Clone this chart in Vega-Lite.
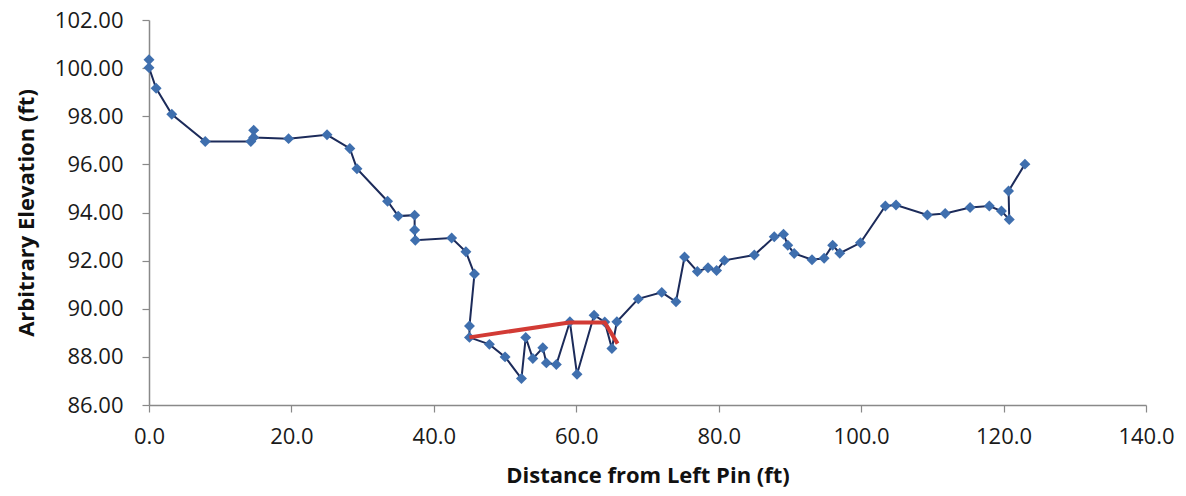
{
  "$schema": "https://vega.github.io/schema/vega-lite/v6.json",
  "autosize": "none",
  "width": 997,
  "height": 385,
  "padding": {"left": 149, "top": 20, "right": 40, "bottom": 91},
  "background": "white",
  "config": {
    "view": {"stroke": null},
    "font": "Open Sans",
    "axis": {"grid": false, "domainColor": "#898989", "tickColor": "#898989", "domainWidth": 1.5, "tickWidth": 1.2, "labelColor": "#1a1a1a", "titleColor": "#111111", "labelFont": "Open Sans", "titleFont": "Open Sans", "labelFlush": false, "labelOverlap": false}
  },
  "datasets": {
    "profile": [
      {"i": 1, "d": 0.0, "e": 100.35},
      {"i": 2, "d": 0.0, "e": 100.02},
      {"i": 3, "d": 1.0, "e": 99.16},
      {"i": 4, "d": 3.2, "e": 98.08},
      {"i": 5, "d": 7.9, "e": 96.95},
      {"i": 6, "d": 14.3, "e": 96.95},
      {"i": 7, "d": 14.7, "e": 97.42},
      {"i": 8, "d": 14.7, "e": 97.12},
      {"i": 9, "d": 19.6, "e": 97.07},
      {"i": 10, "d": 25.0, "e": 97.23},
      {"i": 11, "d": 28.2, "e": 96.66},
      {"i": 12, "d": 29.2, "e": 95.82},
      {"i": 13, "d": 33.5, "e": 94.47},
      {"i": 14, "d": 35.0, "e": 93.85},
      {"i": 15, "d": 37.3, "e": 93.89},
      {"i": 16, "d": 37.3, "e": 93.27},
      {"i": 17, "d": 37.4, "e": 92.85},
      {"i": 18, "d": 42.5, "e": 92.94},
      {"i": 19, "d": 44.5, "e": 92.37},
      {"i": 20, "d": 45.7, "e": 91.44},
      {"i": 21, "d": 45.0, "e": 89.28},
      {"i": 22, "d": 45.0, "e": 88.81},
      {"i": 23, "d": 47.8, "e": 88.52},
      {"i": 24, "d": 50.0, "e": 88.0},
      {"i": 25, "d": 52.3, "e": 87.1},
      {"i": 26, "d": 52.9, "e": 88.81},
      {"i": 27, "d": 53.9, "e": 87.93},
      {"i": 28, "d": 55.3, "e": 88.38},
      {"i": 29, "d": 55.8, "e": 87.75},
      {"i": 30, "d": 57.2, "e": 87.68},
      {"i": 31, "d": 59.1, "e": 89.46},
      {"i": 32, "d": 60.1, "e": 87.28},
      {"i": 33, "d": 62.5, "e": 89.73},
      {"i": 34, "d": 64.0, "e": 89.45},
      {"i": 35, "d": 65.0, "e": 88.35},
      {"i": 36, "d": 65.7, "e": 89.46},
      {"i": 37, "d": 68.7, "e": 90.41},
      {"i": 38, "d": 72.0, "e": 90.68},
      {"i": 39, "d": 74.0, "e": 90.29},
      {"i": 40, "d": 75.2, "e": 92.15},
      {"i": 41, "d": 77.0, "e": 91.55},
      {"i": 42, "d": 78.5, "e": 91.7},
      {"i": 43, "d": 79.7, "e": 91.59},
      {"i": 44, "d": 80.8, "e": 92.01},
      {"i": 45, "d": 85.0, "e": 92.23},
      {"i": 46, "d": 87.8, "e": 92.99},
      {"i": 47, "d": 89.1, "e": 93.1},
      {"i": 48, "d": 89.7, "e": 92.64},
      {"i": 49, "d": 90.6, "e": 92.3},
      {"i": 50, "d": 93.1, "e": 92.04},
      {"i": 51, "d": 94.8, "e": 92.1},
      {"i": 52, "d": 96.0, "e": 92.64},
      {"i": 53, "d": 97.0, "e": 92.31},
      {"i": 54, "d": 99.9, "e": 92.74},
      {"i": 55, "d": 103.4, "e": 94.27},
      {"i": 56, "d": 104.9, "e": 94.31},
      {"i": 57, "d": 109.3, "e": 93.9},
      {"i": 58, "d": 111.8, "e": 93.96},
      {"i": 59, "d": 115.3, "e": 94.21},
      {"i": 60, "d": 118.0, "e": 94.27},
      {"i": 61, "d": 119.7, "e": 94.06},
      {"i": 62, "d": 120.8, "e": 93.71},
      {"i": 63, "d": 120.7, "e": 94.89},
      {"i": 64, "d": 123.0, "e": 96.01}
    ],
    "water": [
      {"i": 1, "d": 45.0, "e": 88.81},
      {"i": 2, "d": 59.0, "e": 89.43},
      {"i": 3, "d": 64.0, "e": 89.43},
      {"i": 4, "d": 65.8, "e": 88.55}
    ]
  },
  "encoding": {
    "x": {"field": "d", "type": "quantitative", "scale": {"domain": [0, 140], "nice": false, "zero": false},
      "axis": {"values": [0, 20, 40, 60, 80, 100, 120, 140], "format": ".1f", "title": "Distance from Left Pin (ft)", "labelFontSize": 22, "labelPadding": 14, "tickSize": 7, "titleFontSize": 22, "titleFontWeight": "bold", "titlePadding": 18}},
    "y": {"field": "e", "type": "quantitative", "scale": {"domain": [86, 102], "nice": false, "zero": false},
      "axis": {"values": [86, 88, 90, 92, 94, 96, 98, 100, 102], "format": ".2f", "title": "Arbitrary Elevation (ft)", "labelFontSize": 22, "labelPadding": 19, "tickSize": 7, "titleFontSize": 22, "titleFontWeight": "bold", "titlePadding": 16}},
    "order": {"field": "i", "type": "quantitative"}
  },
  "layer": [
    {"data": {"name": "profile"}, "mark": {"type": "line", "color": "#1c2b5a", "strokeWidth": 2}},
    {"data": {"name": "profile"}, "mark": {"type": "point", "shape": "diamond", "filled": true, "size": 120, "color": "#3f6fae", "opacity": 1}},
    {"data": {"name": "water"}, "mark": {"type": "line", "color": "#d23b35", "strokeWidth": 4}}
  ]
}
